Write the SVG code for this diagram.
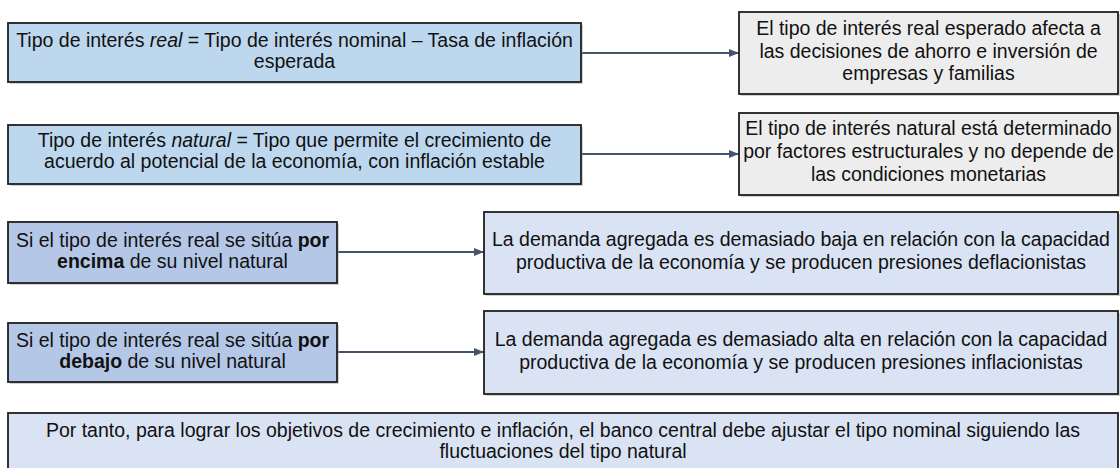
<svg xmlns="http://www.w3.org/2000/svg" width="1120" height="468" viewBox="0 0 1120 468">
<style>
text{font-family:"Liberation Sans",Arial,sans-serif;font-size:19.5px;fill:#111;text-anchor:middle}
.box{stroke:#1f1f1f;stroke-width:1.8}
.sh{fill:#9a9a9a;opacity:0.45}
.lb{fill:#BDD7EE}
.gr{fill:#EDEDED}
.bl{fill:#B4C7E7}
.pb{fill:#DAE3F3}
.con{stroke:#44546A;stroke-width:1.8;fill:none;marker-end:url(#arr)}
</style>
<defs>
<marker id="arr" markerWidth="10" markerHeight="8" refX="10" refY="4" orient="auto" markerUnits="userSpaceOnUse">
<path d="M0,0 L10,4 L0,8 Z" fill="#44546A"/>
</marker>
</defs>
<rect width="1120" height="468" fill="#fff"/>

<g id="connectors">
<line class="con" x1="582" y1="53" x2="739" y2="53"/>
<line class="con" x1="582" y1="154" x2="739" y2="154"/>
<line class="con" x1="338" y1="252" x2="484" y2="252"/>
<line class="con" x1="338" y1="352" x2="484" y2="352"/>
</g>

<g id="n-real">
<rect class="sh" x="10" y="25" width="573" height="59"/>
<rect class="box lb" x="8" y="23" width="573" height="59"/>
<text x="294.5" y="47">Tipo de interés <tspan font-style="italic">real</tspan> = Tipo de interés nominal – Tasa de inflación</text>
<text x="294.5" y="68">esperada</text>
</g>

<g id="n-natural">
<rect class="sh" x="10" y="127" width="573" height="59"/>
<rect class="box lb" x="8" y="125" width="573" height="59"/>
<text x="294.5" y="147">Tipo de interés <tspan font-style="italic">natural</tspan> = Tipo que permite el crecimiento de</text>
<text x="294.5" y="168">acuerdo al potencial de la economía, con inflación estable</text>
</g>

<g id="n-real-effect">
<rect class="sh" x="741" y="14" width="379" height="82"/>
<rect class="box gr" x="739" y="12" width="379" height="82"/>
<text x="928.5" y="35">El tipo de interés real esperado afecta a</text>
<text x="928.5" y="57.5">las decisiones de ahorro e inversión de</text>
<text x="928.5" y="80">empresas y familias</text>
</g>

<g id="n-natural-effect">
<rect class="sh" x="741" y="115" width="379" height="82"/>
<rect class="box gr" x="739" y="113" width="379" height="82"/>
<text x="928.5" y="135">El tipo de interés natural está determinado</text>
<text x="928.5" y="158">por factores estructurales y no depende de</text>
<text x="928.5" y="181">las condiciones monetarias</text>
</g>

<g id="n-encima">
<rect class="sh" x="10" y="224" width="329" height="61"/>
<rect class="box bl" x="8" y="222" width="329" height="61"/>
<text x="172.5" y="247">Si el tipo de interés real se sitúa <tspan font-weight="bold">por</tspan></text>
<text x="172.5" y="268"><tspan font-weight="bold">encima</tspan> de su nivel natural</text>
</g>

<g id="n-debajo">
<rect class="sh" x="10" y="325" width="329" height="59"/>
<rect class="box bl" x="8" y="323" width="329" height="59"/>
<text x="172.5" y="347">Si el tipo de interés real se sitúa <tspan font-weight="bold">por</tspan></text>
<text x="172.5" y="368"><tspan font-weight="bold">debajo</tspan> de su nivel natural</text>
</g>

<g id="n-deflacion">
<rect class="sh" x="486" y="214" width="634" height="82"/>
<rect class="box pb" x="484" y="212" width="634" height="82"/>
<text x="801" y="246">La demanda agregada es demasiado baja en relación con la capacidad</text>
<text x="801" y="269">productiva de la economía y se producen presiones deflacionistas</text>
</g>

<g id="n-inflacion">
<rect class="sh" x="486" y="313" width="634" height="83"/>
<rect class="box pb" x="484" y="311" width="634" height="83"/>
<text x="801" y="346">La demanda agregada es demasiado alta en relación con la capacidad</text>
<text x="801" y="369">productiva de la economía y se producen presiones inflacionistas</text>
</g>

<g id="n-conclusion">
<rect class="box pb" x="8" y="413" width="1110" height="64"/>
<text x="563" y="437">Por tanto, para lograr los objetivos de crecimiento e inflación, el banco central debe ajustar el tipo nominal siguiendo las</text>
<text x="563" y="458">fluctuaciones del tipo natural</text>
</g>
</svg>
